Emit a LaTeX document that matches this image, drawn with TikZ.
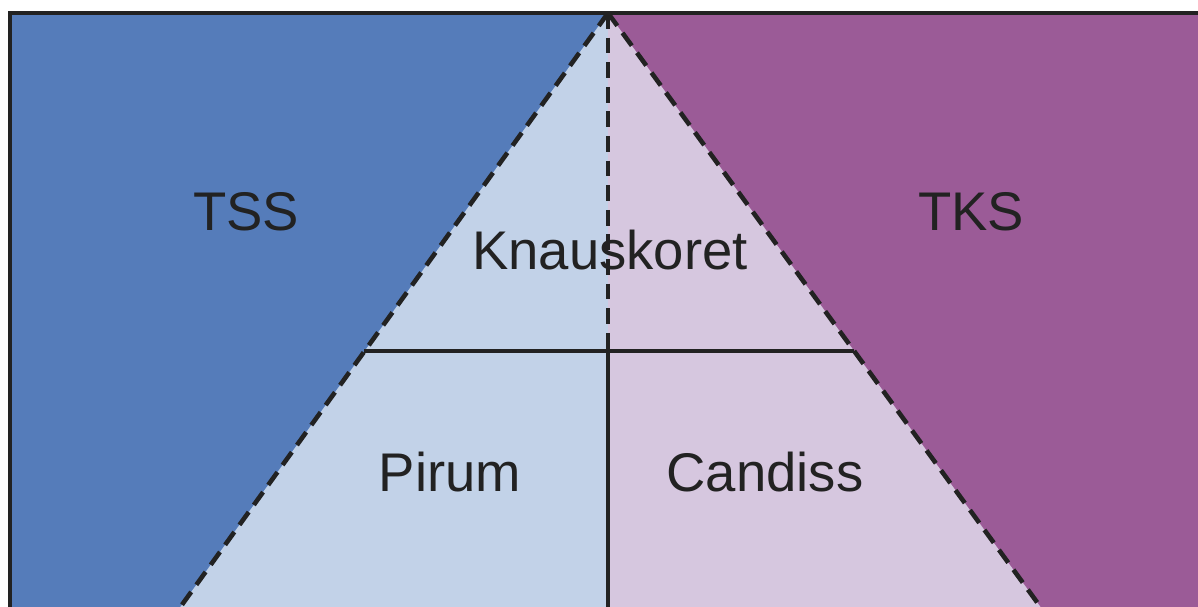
\documentclass[tikz,border=0pt]{standalone}
\usepackage{fontspec}
\setmainfont{Liberation Sans}
\usepackage{tikz}
\usetikzlibrary{positioning}
\definecolor{tssblue}{HTML}{557CBA}
\definecolor{tkspurple}{HTML}{9B5B97}
\definecolor{lightblue}{HTML}{C2D2E8}
\definecolor{lightpurple}{HTML}{D6C7DF}
\definecolor{inkgrey}{HTML}{222222}
\tikzset{
  label text/.style={text=inkgrey, font=\fontsize{31}{36}\selectfont, inner sep=0pt},
  edge dash/.style={draw=inkgrey, line width=2.6pt, dash pattern=on 9pt off 5pt},
  divider/.style={draw=inkgrey, line width=2pt}
}

\begin{document}
\begin{tikzpicture}[x=0.02cm, y=-0.02cm]
		\useasboundingbox (0,0) rectangle (1198,606);
		\clip (0,0) rectangle (1198,606);
		\coordinate (apex) at (608,13);
		\coordinate (TL) at (10,13);  \coordinate (TR) at (1220,13);
		\coordinate (BL) at (10,620); \coordinate (BR) at (1220,620);
		\coordinate (BM) at (608,620);
		\coordinate (leftfoot) at (171,620);  \coordinate (rightfoot) at (1050,620);
		\coordinate (midL) at (364,351); \coordinate (midR) at (854,351);
		\coordinate (midM) at (608,351);
		% fills
		\fill[tssblue] (TL)--(apex)--(BM)--(BL)--cycle;
		\fill[tkspurple] (apex)--(TR)--(BR)--(BM)--cycle;
		\fill[lightblue] (apex)--(leftfoot)--(BM)--cycle;
		\fill[lightpurple] (apex)--(rightfoot)--(BM)--cycle;
		% lines
		\draw[edge dash] (apex)--(leftfoot); \draw[edge dash] (apex)--(rightfoot);
		\draw[edge dash] (apex)--(midM);
		\draw[divider] (midL)--(midR); \draw[divider] (midM)--(BM);
		\draw[divider, line width=2.2pt] (BL)--(TL)--(TR);
		% labels
		\node[label text] (tss) at (246,212) {TSS};
		\node[label text] (tks) at (971,212) {TKS};
		\node[label text] (knaus) at (610,250) {Knauskoret};
		\node[label text] (pirum) at (450,472) {Pirum};
		\node[label text] (candiss) at (765,472) {Candiss};
\end{tikzpicture}
\end{document}
